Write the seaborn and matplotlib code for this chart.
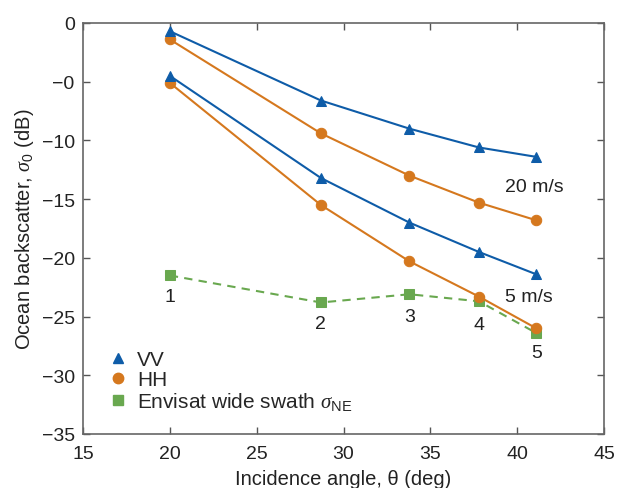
import matplotlib
matplotlib.use("Agg")
import matplotlib.pyplot as plt
from matplotlib.lines import Line2D
import seaborn as sns
import pandas as pd

# Data
angles = [20.0, 28.7, 33.8, 37.8, 41.1]
vv_20 = [-0.7, -6.6, -9.0, -10.6, -11.4]
hh_20 = [-1.4, -9.4, -13.0, -15.3, -16.8]
vv_5 = [-4.5, -13.2, -17.0, -19.5, -21.4]
hh_5 = [-5.1, -15.5, -20.3, -23.3, -26.0]
envisat = [-21.5, -23.8, -23.1, -23.7, -26.4]
swath_labels = ["1", "2", "3", "4", "5"]
swath_label_y = [-23.3, -25.6, -25.0, -25.7, -28.1]
xticks = [15, 20, 25, 30, 35, 40, 45]
yticks = [0, -5, -10, -15, -20, -25, -30, -35]
ytick_labels = ["0", "\u22120", "\u221210", "\u221215", "\u221220", "\u221225", "\u221230", "\u221235"]

sns.set_style("ticks")
plt.rcParams["font.family"] = ["Liberation Sans", "DejaVu Sans"]
plt.rcParams["mathtext.fontset"] = "custom"
plt.rcParams["mathtext.rm"] = "Liberation Sans"
plt.rcParams["mathtext.it"] = "Liberation Serif:italic"

blue = "#0e5ca8"
orange = "#d5781e"
green = "#69a84f"
txt = "#222222"

fig = plt.figure(figsize=(6.19, 4.89), dpi=100)
ax = fig.add_axes([83 / 619, 1 - 435 / 489, 521 / 619, 411 / 489])

def draw(vals, color, marker, ls="-", ms=7.5):
    df = pd.DataFrame({"x": angles, "y": vals})
    sns.lineplot(data=df, x="x", y="y", ax=ax, color=color, marker=marker,
                 markersize=ms, markeredgecolor=color, linestyle=ls,
                 linewidth=1.5, sort=False, legend=False)

draw(envisat, green, "s", ls=(0, (4, 3)), ms=7)
draw(hh_20, orange, "o")
draw(hh_5, orange, "o")
draw(vv_20, blue, "^")
draw(vv_5, blue, "^")

for x, y, t in zip(angles, swath_label_y, swath_labels):
    ax.text(x, y, t, ha="center", va="center", fontsize=14, color=txt)

ax.text(41.0, -13.9, "20 m/s", ha="center", va="center", fontsize=14, color=txt)
ax.text(40.7, -23.3, "5 m/s", ha="center", va="center", fontsize=14, color=txt)

ax.set_xlim(15, 45)
ax.set_ylim(-35, 0)
ax.set_xticks(xticks)
ax.set_xticklabels([str(v) for v in xticks])
ax.set_yticks(yticks)
ax.set_yticklabels(ytick_labels)
ax.tick_params(direction="in", length=5, width=1, colors="#555555",
               labelcolor=txt, labelsize=14, top=True, right=True)
ax.tick_params(axis="x", pad=8)
ax.tick_params(axis="y", pad=6)
for s in ax.spines.values():
    s.set_visible(True)
    s.set_color("#666666")
    s.set_linewidth(1.2)

ax.set_xlabel("Incidence angle, \u03b8 (deg)", fontsize=14.5, color=txt, labelpad=5)
ax.set_ylabel("Ocean backscatter, $\\sigma_0$ (dB)", fontsize=14.5, color=txt, labelpad=4)

handles = [
    Line2D([], [], color=blue, marker="^", linestyle="none", markersize=7.5),
    Line2D([], [], color=orange, marker="o", linestyle="none", markersize=7.5),
    Line2D([], [], color=green, marker="s", linestyle="none", markersize=7),
]
labels = ["VV", "HH", "Envisat wide swath $\\mathit{\\sigma}_{\\rm NE}$"]
ax.legend(handles, labels, loc="upper left", bbox_to_anchor=(0.028, 0.225),
          frameon=False, fontsize=15, handletextpad=0.3, labelspacing=0.05,
          borderaxespad=0.0, handlelength=1.2)

fig.savefig("out.png", dpi=100)
